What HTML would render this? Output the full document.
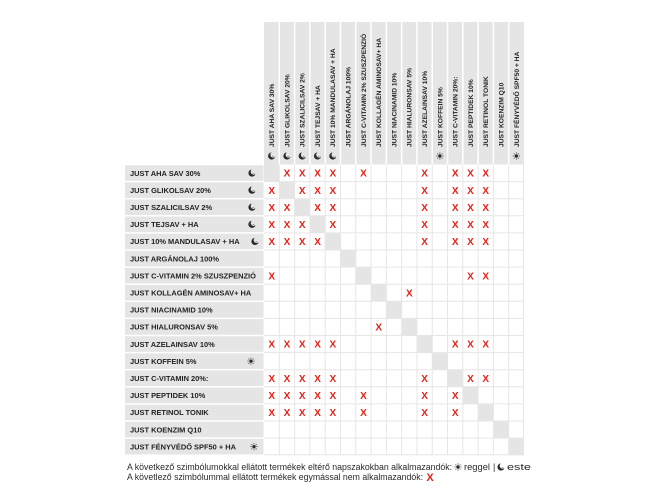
<!DOCTYPE html>
<html><head><meta charset="utf-8"><style>
html,body{margin:0;padding:0;background:#fff;}
svg{display:block;}
</style></head><body>
<svg width="650" height="500" viewBox="0 0 650 500" xmlns="http://www.w3.org/2000/svg">
<defs>
<g id="moon"><circle r="3.6" fill="#2b2b2b"/><circle cx="1.7" cy="-1.3" r="3" fill="#e5e5e5"/><circle cx="1.1" cy="0.3" r="0.45" fill="#2b2b2b"/><circle cx="2.5" cy="1" r="0.35" fill="#2b2b2b"/></g>
<g id="moonW"><circle r="3.6" fill="#2b2b2b"/><circle cx="1.7" cy="-1.3" r="3" fill="#fff"/><circle cx="1.1" cy="0.3" r="0.45" fill="#2b2b2b"/><circle cx="2.5" cy="1" r="0.35" fill="#2b2b2b"/></g>
<g id="sun" stroke="#2b2b2b" stroke-width="0.7"><circle r="1.7" fill="#2b2b2b" stroke="none"/><path d="M0,-2.4V-3.6M0,2.4V3.6M-2.4,0H-3.6M2.4,0H3.6M1.7,1.7L2.55,2.55M-1.7,-1.7L-2.55,-2.55M1.7,-1.7L2.55,-2.55M-1.7,1.7L-2.55,2.55"/></g>
</defs>

<!-- header grey -->
<rect x="264" y="22" width="260" height="142.5" fill="#e5e5e5"/>
<g stroke="#fff" stroke-width="1.5">
<line x1="279.29" y1="22" x2="279.29" y2="164.5"/><line x1="294.59" y1="22" x2="294.59" y2="164.5"/><line x1="309.88" y1="22" x2="309.88" y2="164.5"/><line x1="325.18" y1="22" x2="325.18" y2="164.5"/><line x1="340.47" y1="22" x2="340.47" y2="164.5"/><line x1="355.76" y1="22" x2="355.76" y2="164.5"/><line x1="371.06" y1="22" x2="371.06" y2="164.5"/><line x1="386.35" y1="22" x2="386.35" y2="164.5"/><line x1="401.65" y1="22" x2="401.65" y2="164.5"/><line x1="416.94" y1="22" x2="416.94" y2="164.5"/><line x1="432.24" y1="22" x2="432.24" y2="164.5"/><line x1="447.53" y1="22" x2="447.53" y2="164.5"/><line x1="462.82" y1="22" x2="462.82" y2="164.5"/><line x1="478.12" y1="22" x2="478.12" y2="164.5"/><line x1="493.41" y1="22" x2="493.41" y2="164.5"/><line x1="508.71" y1="22" x2="508.71" y2="164.5"/>
</g>

<!-- header texts -->
<g font-family="Liberation Sans, sans-serif" font-weight="bold" font-size="6.7" fill="#222">
<text transform="translate(274.05,147) rotate(-90)">JUST AHA SAV 30%</text>
<text transform="translate(289.34,147) rotate(-90)">JUST GLIKOLSAV 20%</text>
<text transform="translate(304.64,147) rotate(-90)">JUST SZALICILSAV 2%</text>
<text transform="translate(319.93,147) rotate(-90)">JUST TEJSAV + HA</text>
<text transform="translate(335.22,147) rotate(-90)">JUST 10% MANDULASAV + HA</text>
<text transform="translate(350.52,147) rotate(-90)">JUST ARGÁNOLAJ 100%</text>
<text transform="translate(365.81,147) rotate(-90)">JUST C-VITAMIN 2% SZUSZPENZIÓ</text>
<text transform="translate(381.11,147) rotate(-90)">JUST KOLLAGÉN AMINOSAV+ HA</text>
<text transform="translate(396.40,147) rotate(-90)">JUST NIACINAMID 10%</text>
<text transform="translate(411.69,147) rotate(-90)">JUST HIALURONSAV 5%</text>
<text transform="translate(426.99,147) rotate(-90)">JUST AZELAINSAV 10%</text>
<text transform="translate(442.28,147) rotate(-90)">JUST KOFFEIN 5%</text>
<text transform="translate(457.58,147) rotate(-90)">JUST C-VITAMIN 20%:</text>
<text transform="translate(472.87,147) rotate(-90)">JUST PEPTIDEK 10%</text>
<text transform="translate(488.16,147) rotate(-90)">JUST RETINOL TONIK</text>
<text transform="translate(503.46,147) rotate(-90)">JUST KOENZIM Q10</text>
<text transform="translate(518.75,147) rotate(-90)">JUST FÉNYVÉDŐ SPF50 + HA</text>
</g>
<use href="#moon" x="271.65" y="156"/><use href="#moon" x="286.94" y="156"/><use href="#moon" x="302.24" y="156"/><use href="#moon" x="317.53" y="156"/><use href="#moon" x="332.82" y="156"/>
<use href="#sun" x="439.88" y="156"/><use href="#sun" x="516.35" y="156"/>

<!-- row label backgrounds -->
<g fill="#e5e5e5">
<rect x="125" y="165.25" width="138.5" height="15.6"/><rect x="125" y="182.35" width="138.5" height="15.6"/><rect x="125" y="199.45" width="138.5" height="15.6"/><rect x="125" y="216.55" width="138.5" height="15.6"/><rect x="125" y="233.65" width="138.5" height="15.6"/><rect x="125" y="250.75" width="138.5" height="15.6"/><rect x="125" y="267.85" width="138.5" height="15.6"/><rect x="125" y="284.95" width="138.5" height="15.6"/><rect x="125" y="302.05" width="138.5" height="15.6"/><rect x="125" y="319.15" width="138.5" height="15.6"/><rect x="125" y="336.25" width="138.5" height="15.6"/><rect x="125" y="353.35" width="138.5" height="15.6"/><rect x="125" y="370.45" width="138.5" height="15.6"/><rect x="125" y="387.55" width="138.5" height="15.6"/><rect x="125" y="404.65" width="138.5" height="15.6"/><rect x="125" y="421.75" width="138.5" height="15.6"/><rect x="125" y="438.85" width="138.5" height="15.6"/>
</g>

<!-- diagonal cells -->
<g fill="#e5e5e5">
<rect x="264" y="164.5" width="15.29" height="17.1"/><rect x="279.29" y="181.6" width="15.29" height="17.1"/><rect x="294.59" y="198.7" width="15.29" height="17.1"/><rect x="309.88" y="215.8" width="15.29" height="17.1"/><rect x="325.18" y="232.9" width="15.29" height="17.1"/><rect x="340.47" y="250" width="15.29" height="17.1"/><rect x="355.76" y="267.1" width="15.29" height="17.1"/><rect x="371.06" y="284.2" width="15.29" height="17.1"/><rect x="386.35" y="301.3" width="15.29" height="17.1"/><rect x="401.65" y="318.4" width="15.29" height="17.1"/><rect x="416.94" y="335.5" width="15.29" height="17.1"/><rect x="432.24" y="352.6" width="15.29" height="17.1"/><rect x="447.53" y="369.7" width="15.29" height="17.1"/><rect x="462.82" y="386.8" width="15.29" height="17.1"/><rect x="478.12" y="403.9" width="15.29" height="17.1"/><rect x="493.41" y="421" width="15.29" height="17.1"/><rect x="508.71" y="438.1" width="15.29" height="17.1"/>
</g>

<!-- grid lines -->
<g stroke="#e6e6e6" stroke-width="1">
<line x1="279.29" y1="164.5" x2="279.29" y2="455.2"/><line x1="294.59" y1="164.5" x2="294.59" y2="455.2"/><line x1="309.88" y1="164.5" x2="309.88" y2="455.2"/><line x1="325.18" y1="164.5" x2="325.18" y2="455.2"/><line x1="340.47" y1="164.5" x2="340.47" y2="455.2"/><line x1="355.76" y1="164.5" x2="355.76" y2="455.2"/><line x1="371.06" y1="164.5" x2="371.06" y2="455.2"/><line x1="386.35" y1="164.5" x2="386.35" y2="455.2"/><line x1="401.65" y1="164.5" x2="401.65" y2="455.2"/><line x1="416.94" y1="164.5" x2="416.94" y2="455.2"/><line x1="432.24" y1="164.5" x2="432.24" y2="455.2"/><line x1="447.53" y1="164.5" x2="447.53" y2="455.2"/><line x1="462.82" y1="164.5" x2="462.82" y2="455.2"/><line x1="478.12" y1="164.5" x2="478.12" y2="455.2"/><line x1="493.41" y1="164.5" x2="493.41" y2="455.2"/><line x1="508.71" y1="164.5" x2="508.71" y2="455.2"/><line x1="523.5" y1="164.5" x2="523.5" y2="455.2"/>
<line x1="264" y1="181.6" x2="524" y2="181.6"/><line x1="264" y1="198.7" x2="524" y2="198.7"/><line x1="264" y1="215.8" x2="524" y2="215.8"/><line x1="264" y1="232.9" x2="524" y2="232.9"/><line x1="264" y1="250" x2="524" y2="250"/><line x1="264" y1="267.1" x2="524" y2="267.1"/><line x1="264" y1="284.2" x2="524" y2="284.2"/><line x1="264" y1="301.3" x2="524" y2="301.3"/><line x1="264" y1="318.4" x2="524" y2="318.4"/><line x1="264" y1="335.5" x2="524" y2="335.5"/><line x1="264" y1="352.6" x2="524" y2="352.6"/><line x1="264" y1="369.7" x2="524" y2="369.7"/><line x1="264" y1="386.8" x2="524" y2="386.8"/><line x1="264" y1="403.9" x2="524" y2="403.9"/><line x1="264" y1="421" x2="524" y2="421"/><line x1="264" y1="438.1" x2="524" y2="438.1"/><line x1="264" y1="454.7" x2="524" y2="454.7"/>
</g>

<!-- row labels -->
<g font-family="Liberation Sans, sans-serif" font-weight="bold" font-size="7.45" fill="#222">
<text x="130" y="175.75">JUST AHA SAV 30%</text>
<text x="130" y="192.85">JUST GLIKOLSAV 20%</text>
<text x="130" y="209.95">JUST SZALICILSAV 2%</text>
<text x="130" y="227.05">JUST TEJSAV + HA</text>
<text x="130" y="244.15">JUST 10% MANDULASAV + HA</text>
<text x="130" y="261.25">JUST ARGÁNOLAJ 100%</text>
<text x="130" y="278.35">JUST C-VITAMIN 2% SZUSZPENZIÓ</text>
<text x="130" y="295.45">JUST KOLLAGÉN AMINOSAV+ HA</text>
<text x="130" y="312.55">JUST NIACINAMID 10%</text>
<text x="130" y="329.65">JUST HIALURONSAV 5%</text>
<text x="130" y="346.75">JUST AZELAINSAV 10%</text>
<text x="130" y="363.85">JUST KOFFEIN 5%</text>
<text x="130" y="380.95">JUST C-VITAMIN 20%:</text>
<text x="130" y="398.05">JUST PEPTIDEK 10%</text>
<text x="130" y="415.15">JUST RETINOL TONIK</text>
<text x="130" y="432.25">JUST KOENZIM Q10</text>
<text x="130" y="449.35">JUST FÉNYVÉDŐ SPF50 + HA</text>
</g>
<use href="#moon" x="252" y="173.05"/><use href="#moon" x="252" y="190.15"/><use href="#moon" x="252" y="207.25"/><use href="#moon" x="252" y="224.35"/><use href="#moon" x="255" y="241.45"/>
<use href="#sun" x="251" y="361.15"/><use href="#sun" x="254" y="446.65"/>

<!-- X marks -->
<g font-family="Liberation Sans, sans-serif" font-weight="bold" font-size="10" fill="#e2231a" text-anchor="middle">
<!-- row 1 y=176.65 -->
<text x="286.94" y="176.65">X</text><text x="302.24" y="176.65">X</text><text x="317.53" y="176.65">X</text><text x="332.82" y="176.65">X</text><text x="363.41" y="176.65">X</text><text x="424.59" y="176.65">X</text><text x="455.18" y="176.65">X</text><text x="470.47" y="176.65">X</text><text x="485.76" y="176.65">X</text>
<!-- row 2 -->
<text x="271.65" y="193.75">X</text><text x="302.24" y="193.75">X</text><text x="317.53" y="193.75">X</text><text x="332.82" y="193.75">X</text><text x="424.59" y="193.75">X</text><text x="455.18" y="193.75">X</text><text x="470.47" y="193.75">X</text><text x="485.76" y="193.75">X</text>
<!-- row 3 -->
<text x="271.65" y="210.85">X</text><text x="286.94" y="210.85">X</text><text x="317.53" y="210.85">X</text><text x="332.82" y="210.85">X</text><text x="424.59" y="210.85">X</text><text x="455.18" y="210.85">X</text><text x="470.47" y="210.85">X</text><text x="485.76" y="210.85">X</text>
<!-- row 4 -->
<text x="271.65" y="227.95">X</text><text x="286.94" y="227.95">X</text><text x="302.24" y="227.95">X</text><text x="332.82" y="227.95">X</text><text x="424.59" y="227.95">X</text><text x="455.18" y="227.95">X</text><text x="470.47" y="227.95">X</text><text x="485.76" y="227.95">X</text>
<!-- row 5 -->
<text x="271.65" y="245.05">X</text><text x="286.94" y="245.05">X</text><text x="302.24" y="245.05">X</text><text x="317.53" y="245.05">X</text><text x="424.59" y="245.05">X</text><text x="455.18" y="245.05">X</text><text x="470.47" y="245.05">X</text><text x="485.76" y="245.05">X</text>
<!-- row 7 -->
<text x="271.65" y="279.25">X</text><text x="470.47" y="279.25">X</text><text x="485.76" y="279.25">X</text>
<!-- row 8 -->
<text x="409.29" y="296.35">X</text>
<!-- row 10 -->
<text x="378.71" y="330.55">X</text>
<!-- row 11 -->
<text x="271.65" y="347.65">X</text><text x="286.94" y="347.65">X</text><text x="302.24" y="347.65">X</text><text x="317.53" y="347.65">X</text><text x="332.82" y="347.65">X</text><text x="455.18" y="347.65">X</text><text x="470.47" y="347.65">X</text><text x="485.76" y="347.65">X</text>
<!-- row 13 -->
<text x="271.65" y="381.85">X</text><text x="286.94" y="381.85">X</text><text x="302.24" y="381.85">X</text><text x="317.53" y="381.85">X</text><text x="332.82" y="381.85">X</text><text x="424.59" y="381.85">X</text><text x="470.47" y="381.85">X</text><text x="485.76" y="381.85">X</text>
<!-- row 14 -->
<text x="271.65" y="398.95">X</text><text x="286.94" y="398.95">X</text><text x="302.24" y="398.95">X</text><text x="317.53" y="398.95">X</text><text x="332.82" y="398.95">X</text><text x="363.41" y="398.95">X</text><text x="424.59" y="398.95">X</text><text x="455.18" y="398.95">X</text>
<!-- row 15 -->
<text x="271.65" y="416.05">X</text><text x="286.94" y="416.05">X</text><text x="302.24" y="416.05">X</text><text x="317.53" y="416.05">X</text><text x="332.82" y="416.05">X</text><text x="363.41" y="416.05">X</text><text x="424.59" y="416.05">X</text><text x="455.18" y="416.05">X</text>
</g>

<!-- legend -->
<g font-family="Liberation Sans, sans-serif" font-size="9" fill="#2a2a2a">
<text x="127" y="470" textLength="325" lengthAdjust="spacingAndGlyphs">A következő szimbólumokkal ellátott termékek eltérő napszakokban alkalmazandók:</text>
<text x="464" y="470" textLength="26" lengthAdjust="spacingAndGlyphs">reggel</text>
<text x="493" y="470">|</text>
<text x="507" y="470" textLength="24" lengthAdjust="spacingAndGlyphs">este</text>
<text x="127" y="480" textLength="296" lengthAdjust="spacingAndGlyphs">A követlező szimbólummal ellátott termékek egymással nem alkalmazandók:</text>
</g>
<use href="#sun" x="458" y="467"/>
<use href="#moonW" x="501" y="467"/>
<text x="430" y="481" font-family="Liberation Sans, sans-serif" font-weight="bold" font-size="11" fill="#e2231a" text-anchor="middle">X</text>
</svg>
</body></html>
